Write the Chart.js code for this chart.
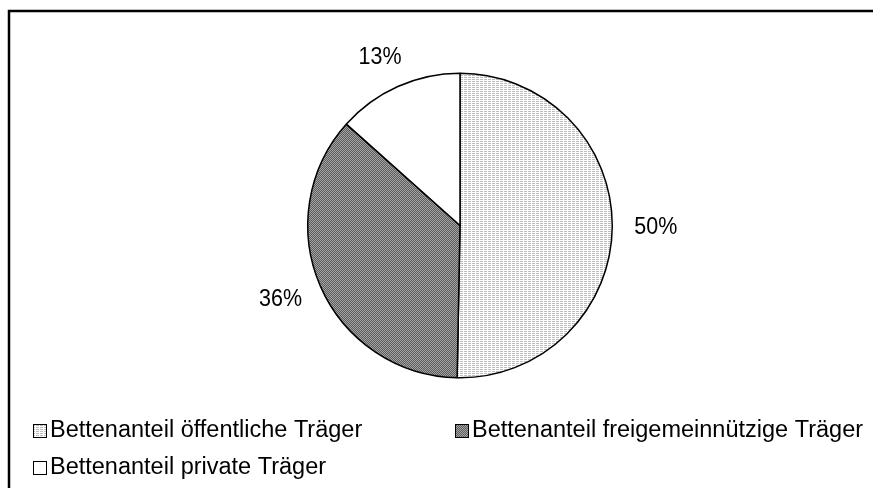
<!DOCTYPE html>
<html>
<head>
<meta charset="utf-8">
<script src="https://cdn.jsdelivr.net/npm/chart.js@4"></script>
<style>
  html, body { margin: 0; padding: 0; background: #fff; }
  #myChart { display: block; }
</style>
</head>
<body>
<canvas id="myChart" width="873" height="488"></canvas>
<script>
// datos del grafico
const etiquetas = ["Bettenanteil öffentliche Träger", "Bettenanteil freigemeinnützige Träger", "Bettenanteil private Träger"];
const valores = [50.3, 36.3, 13.4];

// patrones de relleno (estilo Excel)
function patronClaro() {
  const c = document.createElement("canvas");
  c.width = 4; c.height = 2;
  const g = c.getContext("2d");
  g.fillStyle = "#ffffff";
  g.fillRect(0, 0, 4, 2);
  g.fillStyle = "#bdbdbd";
  g.fillRect(0, 1, 3, 1);
  return g.createPattern(c, "repeat");
}
function patronOscuro() {
  const c = document.createElement("canvas");
  c.width = 2; c.height = 2;
  const g = c.getContext("2d");
  g.fillStyle = "#5c5c5c";
  g.fillRect(0, 0, 2, 2);
  g.fillStyle = "#a4a4a4";
  g.fillRect(0, 0, 1, 1);
  g.fillRect(1, 1, 1, 1);
  return g.createPattern(c, "repeat");
}

const ctx = document.getElementById("myChart");
const colores = [patronClaro(), patronOscuro(), "#ffffff"];

function texto(g, t, x, y, size, sy, align, base) {
  g.save();
  g.translate(x, y);
  g.scale(1, sy);
  g.font = size + "px 'Liberation Sans', Arial, sans-serif";
  g.fillStyle = "#000";
  g.textAlign = align;
  g.textBaseline = base;
  g.fillText(t, 0, 0);
  g.restore();
}

const extras = {
  id: "extras",
  afterDraw(chart) {
    const g = chart.ctx;
    // marco
    g.save();
    g.strokeStyle = "#000";
    g.lineWidth = 2.5;
    g.beginPath();
    g.moveTo(9, 488);
    g.lineTo(9, 11);
    g.lineTo(873, 11);
    g.stroke();
    g.restore();

    // porcentajes
    const meta = chart.getDatasetMeta(0);
    meta.data.forEach(function (arc, i) {
      const a = (arc.startAngle + arc.endAngle) / 2;
      const dx = Math.cos(a), dy = Math.sin(a);
      const t = Math.round(valores[i]) + "%";
      g.font = "21.5px 'Liberation Sans', Arial, sans-serif";
      const hw = g.measureText(t).width / 2;
      const d = arc.outerRadius + 22;
      const x = arc.x + dx * d + dx * hw;
      const y = arc.y + dy * d + dy * 10;
      texto(g, t, x, y, 21.5, 1.15, "center", "middle");
    });

    // leyenda
    const pos = [[33, 437], [455, 437], [33, 474]];
    etiquetas.forEach(function (lab, i) {
      const x = pos[i][0], y = pos[i][1];
      g.save();
      g.fillStyle = colores[i];
      g.fillRect(x, y - 13, 14, 14);
      g.strokeStyle = "#000";
      g.lineWidth = 1;
      g.strokeRect(x + 0.5, y - 12.5, 13, 13);
      g.restore();
      texto(g, lab, x + 17, y, 23.5, 1, "left", "alphabetic");
    });
  }
};

new Chart(ctx, {
  type: "pie",
  data: {
    labels: etiquetas,
    datasets: [{
      data: valores,
      backgroundColor: colores,
      borderColor: "#000",
      borderWidth: 1.5
    }]
  },
  options: {
    responsive: false,
    animation: false,
    layout: { padding: { left: 307, right: 260, top: 72, bottom: 109 } },
    plugins: {
      legend: { display: false },
      tooltip: { enabled: false }
    }
  },
  plugins: [extras]
});
</script>
</body>
</html>
